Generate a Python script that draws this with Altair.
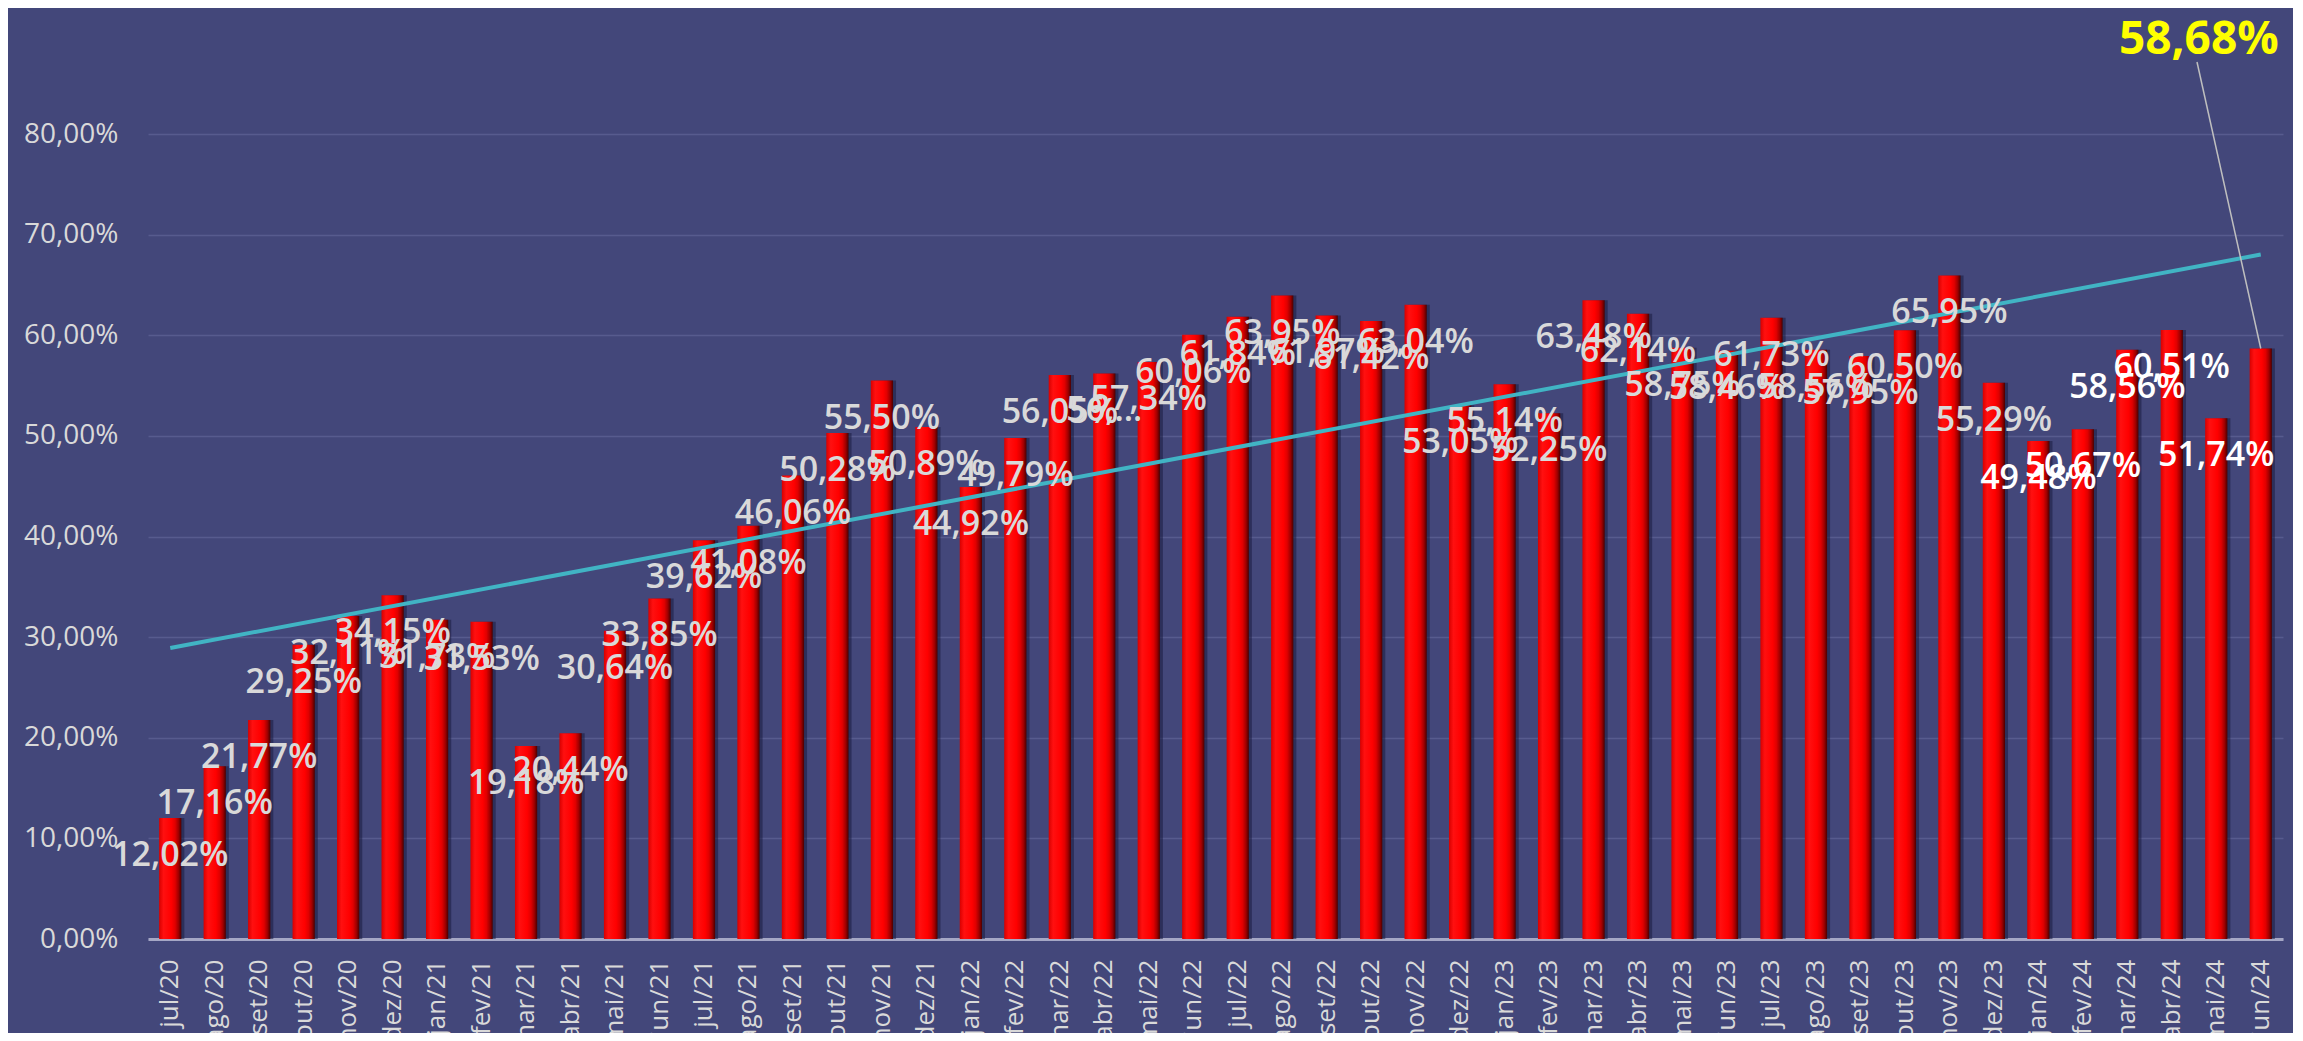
import altair as alt
import pandas as pd

months = ["jul/20", "ago/20", "set/20", "out/20", "nov/20", "dez/20",
          "jan/21", "fev/21", "mar/21", "abr/21", "mai/21", "jun/21",
          "jul/21", "ago/21", "set/21", "out/21", "nov/21", "dez/21",
          "jan/22", "fev/22", "mar/22", "abr/22", "mai/22", "jun/22",
          "jul/22", "ago/22", "set/22", "out/22", "nov/22", "dez/22",
          "jan/23", "fev/23", "mar/23", "abr/23", "mai/23", "jun/23",
          "jul/23", "ago/23", "set/23", "out/23", "nov/23", "dez/23",
          "jan/24", "fev/24", "mar/24", "abr/24", "mai/24", "jun/24"]

values = [12.02, 17.16, 21.77, 29.25, 32.11, 34.15,
          31.73, 31.53, 19.18, 20.44, 30.64, 33.85,
          39.62, 41.08, 46.06, 50.28, 55.50, 50.89,
          44.92, 49.79, 56.05, 56.20, 57.34, 60.06,
          61.84, 63.95, 61.97, 61.42, 63.04, 53.05,
          55.14, 52.25, 63.48, 62.14, 58.75, 58.46,
          61.73, 58.56, 57.95, 60.50, 65.95, 55.29,
          49.48, 50.67, 58.56, 60.51, 51.74, 58.68]

labels = [f"{v:.2f}".replace(".", ",") + "%" for v in values]
labels[21] = "56,…"  # truncated in the original

y_ticks = [0, 10, 20, 30, 40, 50, 60, 70, 80]

df = pd.DataFrame({
    "idx": list(range(len(months))),
    "month": months,
    "value": values,
    "label": labels,
})

BG = "#43477A"
FONT = "Open Sans"
LAST = len(months) - 1

xscale = alt.Scale(domain=months, paddingInner=0.5, paddingOuter=0.25)
yscale = alt.Scale(domain=[0, 80])

xenc = alt.X("month:N", scale=xscale, sort=months,
             axis=alt.Axis(title=None, labelAngle=-90, labelFontSize=26,
                           labelColor="#D9D9D9", labelFont=FONT, ticks=False,
                           domainColor="#A5A7C5", domainWidth=3,
                           labelPadding=20, grid=False))
yenc = alt.Y("value:Q", scale=yscale,
             axis=alt.Axis(title=None, values=y_ticks,
                           labelExpr="replace(format(datum.value, '.2f'), '.', ',') + '%'",
                           labelFontSize=28, labelColor="#D9D9D9", labelFont=FONT,
                           ticks=False, domain=False, gridColor="#575B8E",
                           gridWidth=1.5, labelPadding=30))
xplain = alt.X("month:N", scale=xscale, sort=months)
yplain = alt.Y("value:Q", scale=yscale)

base = alt.Chart(df)

shadow = base.mark_bar(color="#1A1B40", opacity=0.55, xOffset=3).encode(
    x=xenc, y=yenc)

bar_grad = alt.Gradient(
    gradient="linear",
    stops=[alt.GradientStop(color="#D80000", offset=0),
           alt.GradientStop(color="#FF1010", offset=0.2),
           alt.GradientStop(color="#FF0000", offset=0.55),
           alt.GradientStop(color="#E00000", offset=0.72),
           alt.GradientStop(color="#A00000", offset=0.87),
           alt.GradientStop(color="#4A0000", offset=1)],
    x1=0, x2=1, y1=0, y2=0)

bars = base.mark_bar(color=bar_grad).encode(x=xplain, y=yplain)

trend = base.transform_regression(
    "idx", "value", method="linear"
).transform_lookup(
    lookup="idx",
    from_=alt.LookupData(data=df, key="idx", fields=["month"])
).mark_line(color="#41B4C4", strokeWidth=4).encode(x=xplain, y=yplain)

texts = base.transform_filter(f"datum.idx < {LAST}").mark_text(
    font=FONT, fontSize=34, fontWeight=600, baseline="middle",
    align="center", dy=38
).encode(
    x=xplain, y=yplain, text="label:N",
    color=alt.condition("datum.idx >= 42", alt.value("#FFFFFF"), alt.value("#D9D9D9")),
)

last = base.transform_filter(f"datum.idx == {LAST}")

leader = last.mark_rule(color="#BFBFBF", strokeWidth=1.5).encode(
    x=xplain, y=yplain, x2=alt.value(2049), y2=alt.value(-72))

highlight = last.mark_text(
    font=FONT, fontSize=46, fontWeight="bold", color="#FFFF00",
    align="center", baseline="alphabetic", dx=-62, dy=-295
).encode(x=xplain, y=yplain, text="label:N")

chart = alt.layer(shadow, bars, trend, texts, leader, highlight).properties(
    width=2135, height=805,
    padding={"left": 140, "top": 126, "right": 10, "bottom": 94},
    autosize=alt.AutoSizeParams(type="none"),
    background=BG,
).configure_view(stroke=None)

chart.save("out.html", embed_options={"renderer": "svg", "actions": False})
